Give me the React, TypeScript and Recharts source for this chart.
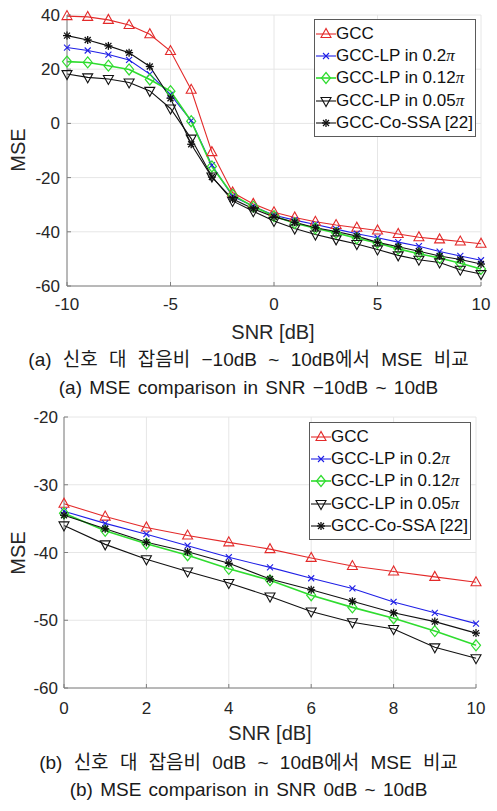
import React from 'react';
import { LineChart, Line, XAxis, YAxis, CartesianGrid, Legend } from 'recharts';

// SNR axis values
const snrLow = [-10, -9, -8, -7, -6, -5, -4, -3, -2, -1];
const snrHigh = [0, 1, 2, 3, 4, 5, 6, 7, 8, 9, 10];

// MSE, SNR -10..-1
const gccLow = [39.6, 39.3, 38.2, 36.3, 32.9, 26.7, 12.4, -10.6, -25.5, -29.7];
const lp02Low = [28.0, 26.9, 25.4, 23.4, 18.2, 10.6, 1.0, -15.4, -26.9, -30.6];
const lp012Low = [22.8, 22.5, 21.3, 19.9, 16.2, 11.9, 0.8, -15.9, -26.4, -30.7];
const lp005Low = [18.2, 17.0, 16.4, 15.1, 12.0, 5.5, -5.6, -19.6, -28.6, -32.4];
const coSsaLow = [32.4, 30.8, 28.6, 26.1, 21.0, 9.3, -7.7, -19.8, -27.9, -31.5];

// MSE, SNR 0..10
const gccHigh = [-32.8, -34.7, -36.3, -37.5, -38.5, -39.5, -40.8, -42.0, -42.8, -43.6, -44.4];
const lp02High = [-33.9, -35.7, -37.3, -39.0, -40.7, -42.2, -43.8, -45.3, -47.3, -48.9, -50.5];
const lp012High = [-34.2, -36.8, -38.7, -40.4, -42.4, -44.1, -46.3, -48.1, -49.7, -51.6, -53.7];
const lp005High = [-36.0, -38.8, -41.0, -42.8, -44.5, -46.5, -48.7, -50.3, -51.3, -54.0, -55.6];
const coSsaHigh = [-34.5, -36.5, -38.5, -39.9, -41.6, -43.9, -45.5, -47.2, -48.9, -50.2, -51.9];

const xTicksA = [-10, -5, 0, 5, 10];
const yTicksA = [-60, -40, -20, 0, 20, 40];
const xTicksB = [0, 2, 4, 6, 8, 10];
const yTicksB = [-60, -50, -40, -30, -20];

const FONT = '"Liberation Sans", Arial, sans-serif';
const AXIS = '#7f7f7f';
const TXT = '#262626';

type Kind = 'triUp' | 'cross' | 'diamond' | 'triDown' | 'star';

const SERIES: { key: string; label: string; pi?: boolean; color: string; kind: Kind; width: number }[] = [
  { key: 'gcc', label: 'GCC', color: '#e32a2a', kind: 'triUp', width: 1.1 },
  { key: 'lp02', label: 'GCC-LP in 0.2', pi: true, color: '#1f1fe6', kind: 'cross', width: 1.1 },
  { key: 'lp012', label: 'GCC-LP in 0.12', pi: true, color: '#2fdc2f', kind: 'diamond', width: 1.6 },
  { key: 'lp005', label: 'GCC-LP in 0.05', pi: true, color: '#111111', kind: 'triDown', width: 1.1 },
  { key: 'coSsa', label: 'GCC-Co-SSA [22]', color: '#111111', kind: 'star', width: 1.1 },
];

const rowsA = [...snrLow, ...snrHigh].map((snr, i) => ({
  snr,
  gcc: [...gccLow, ...gccHigh][i],
  lp02: [...lp02Low, ...lp02High][i],
  lp012: [...lp012Low, ...lp012High][i],
  lp005: [...lp005Low, ...lp005High][i],
  coSsa: [...coSsaLow, ...coSsaHigh][i],
}));

const rowsB = snrHigh.map((snr, i) => ({
  snr,
  gcc: gccHigh[i],
  lp02: lp02High[i],
  lp012: lp012High[i],
  lp005: lp005High[i],
  coSsa: coSsaHigh[i],
}));

function Marker({ kind, cx, cy, color }: { kind: Kind; cx: number; cy: number; color: string }) {
  if (cx == null || cy == null) return null;
  switch (kind) {
    case 'triUp':
      return <polygon points={`${cx},${cy - 5.5} ${cx - 5},${cy + 3.5} ${cx + 5},${cy + 3.5}`} fill="none" stroke={color} strokeWidth={1.1} />;
    case 'triDown':
      return <polygon points={`${cx},${cy + 5.5} ${cx - 5},${cy - 3.5} ${cx + 5},${cy - 3.5}`} fill="none" stroke={color} strokeWidth={1.1} />;
    case 'diamond':
      return <polygon points={`${cx},${cy - 5.5} ${cx + 4.5},${cy} ${cx},${cy + 5.5} ${cx - 4.5},${cy}`} fill="none" stroke={color} strokeWidth={1.2} />;
    case 'cross':
      return (
        <g stroke={color} strokeWidth={1.1}>
          <line x1={cx - 3} y1={cy - 3} x2={cx + 3} y2={cy + 3} />
          <line x1={cx - 3} y1={cy + 3} x2={cx + 3} y2={cy - 3} />
        </g>
      );
    default:
      return (
        <g stroke={color} strokeWidth={1.3}>
          <line x1={cx - 4} y1={cy} x2={cx + 4} y2={cy} />
          <line x1={cx} y1={cy - 4} x2={cx} y2={cy + 4} />
          <line x1={cx - 3} y1={cy - 3} x2={cx + 3} y2={cy + 3} />
          <line x1={cx - 3} y1={cy + 3} x2={cx + 3} y2={cy - 3} />
        </g>
      );
  }
}

const LegendBox = () => (
  <div
    style={{
      border: '1px solid #5a5a5a',
      background: '#fff',
      width: 162,
      boxSizing: 'border-box',
      padding: '3px 0 2px 0',
      fontFamily: FONT,
      fontSize: 17,
      color: '#111',
    }}
  >
    {SERIES.map((s) => (
      <div key={s.key} style={{ display: 'flex', alignItems: 'center', height: 22.2, whiteSpace: 'nowrap' }}>
        <svg width={21} height={16} style={{ flex: 'none' }}>
          <line x1={1} x2={21} y1={8} y2={8} stroke={s.color} strokeWidth={s.width} />
          <Marker kind={s.kind} cx={11} cy={8} color={s.color} />
        </svg>
        <span>
          {s.label}
          {s.pi && <i style={{ fontFamily: '"Liberation Serif", serif' }}>π</i>}
        </span>
      </div>
    ))}
  </div>
);

function Panel({
  rows, xDomain, xTicks, yDomain, yTicks, margin, yWidth, xMargin, yMargin, legendPos,
}: any) {
  return (
    <LineChart width={497} height={345} data={rows} margin={margin}>
      <CartesianGrid stroke="#e6e6e6" />
      <XAxis
        dataKey="snr" type="number" domain={xDomain} ticks={xTicks} height={25}
        stroke={AXIS} tickSize={-4} tickMargin={xMargin}
        tick={{ fill: TXT, fontSize: 17, fontFamily: FONT }}
      />
      <XAxis
        xAxisId="top" orientation="top" dataKey="snr" type="number" domain={xDomain} ticks={xTicks}
        height={0} stroke={AXIS} tickSize={-4} tickFormatter={() => ''}
      />
      <YAxis
        type="number" domain={yDomain} ticks={yTicks} width={yWidth}
        stroke={AXIS} tickSize={-4} tickMargin={yMargin}
        tick={{ fill: TXT, fontSize: 17, fontFamily: FONT }}
      />
      <YAxis
        yAxisId="right" orientation="right" type="number" domain={yDomain} ticks={yTicks}
        width={0} stroke={AXIS} tickSize={-4} tickFormatter={() => ''}
      />
      {SERIES.map((s) => (
        <Line
          key={s.key}
          type="linear"
          dataKey={s.key}
          name={s.label}
          stroke={s.color}
          strokeWidth={s.width}
          isAnimationActive={false}
          activeDot={false}
          dot={(p: any) => <Marker key={`${s.key}-${p.index}`} kind={s.kind} cx={p.cx} cy={p.cy} color={s.color} />}
        />
      ))}
      <Legend
        layout="vertical" align="center" verticalAlign="middle"
        content={() => <LegendBox />}
        wrapperStyle={{ left: legendPos[0], top: legendPos[1], width: 162, height: 'auto' }}
      />
    </LineChart>
  );
}

const abs = (top: number, left = 0): React.CSSProperties => ({ position: 'absolute', top, left });

const AxisTitle = ({ x, y, text, rotate }: { x: number; y: number; text: string; rotate?: boolean }) => (
  <div
    style={{
      position: 'absolute', left: x - 60, top: y - 12, width: 120, height: 24, lineHeight: '24px',
      textAlign: 'center', fontFamily: FONT, fontSize: 20, color: TXT,
      transform: rotate ? 'rotate(-90deg)' : undefined,
    }}
  >
    {text}
  </div>
);

const Caption = ({ y, text, spacing }: { y: number; text: string; spacing: number }) => (
  <div
    style={{
      position: 'absolute', left: 0, top: y - 13, width: 497, height: 26, lineHeight: '26px',
      textAlign: 'center', fontFamily: '"Liberation Sans", "Noto Sans CJK KR", sans-serif',
      fontSize: 19, color: '#1a1a1a', whiteSpace: 'nowrap', wordSpacing: spacing,
    }}
  >
    {text}
  </div>
);

export default function App() {
  return (
    <div style={{ position: 'absolute', left: 0, top: 0, width: 497, height: 811, background: '#fff', overflow: 'hidden' }}>
      <div style={abs(0)}>
        <Panel
          rows={rowsA} xDomain={[-10, 10]} xTicks={xTicksA} yDomain={[-60, 40]} yTicks={yTicksA}
          margin={{ top: 15, right: 16, bottom: 34, left: 0 }} yWidth={67} xMargin={16} yMargin={11}
          legendPos={[314, 19]}
        />
      </div>
      <AxisTitle x={18} y={150} text="MSE" rotate />
      <AxisTitle x={273} y={332} text="SNR [dB]" />
      <Caption y={360} spacing={6} text="(a) 신호 대 잡음비 −10dB ~ 10dB에서 MSE 비교" />
      <Caption y={388} spacing={2} text="(a) MSE comparison in SNR −10dB ~ 10dB" />

      <div style={abs(400)}>
        <Panel
          rows={rowsB} xDomain={[0, 10]} xTicks={xTicksB} yDomain={[-60, -20]} yTicks={yTicksB}
          margin={{ top: 17, right: 21, bottom: 32, left: 0 }} yWidth={64} xMargin={18} yMargin={10}
          legendPos={[309, 22]}
        />
      </div>
      <AxisTitle x={18} y={553} text="MSE" rotate />
      <AxisTitle x={270} y={733} text="SNR [dB]" />
      <Caption y={763} spacing={6} text="(b) 신호 대 잡음비 0dB ~ 10dB에서 MSE 비교" />
      <Caption y={790} spacing={2} text="(b) MSE comparison in SNR 0dB ~ 10dB" />
    </div>
  );
}
